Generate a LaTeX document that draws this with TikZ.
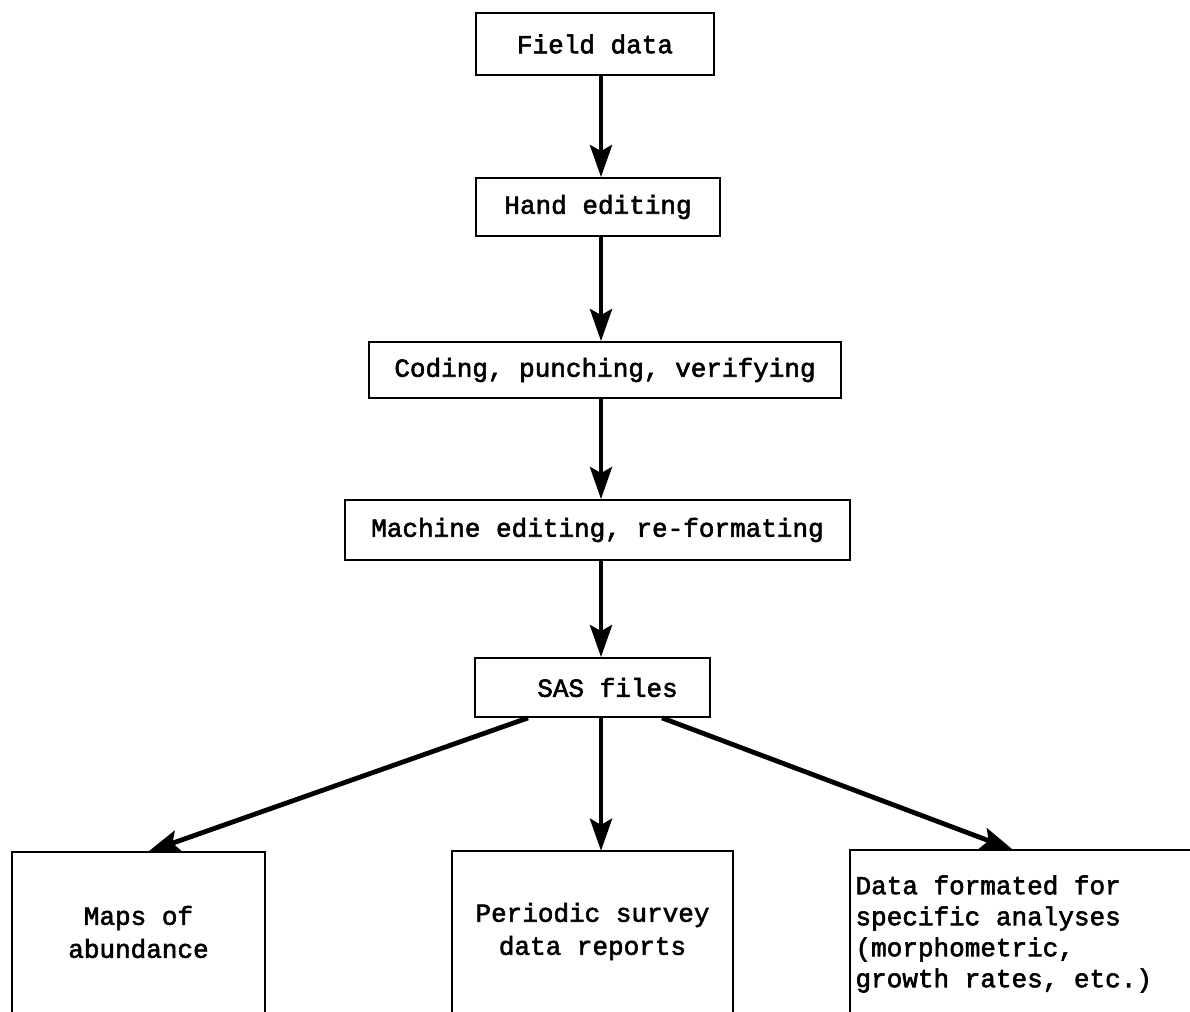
\documentclass[tikz,border=0pt]{standalone}
\usepackage{fontspec}
\setmainfont{Liberation Mono}[FakeBold=2.2]
\usetikzlibrary{arrows.meta}
\begin{document}
\begin{tikzpicture}[x=1pt,y=-1pt,
  font=\fontsize{26pt}{33pt}\selectfont,
  stepbox/.style={draw,line width=1.8pt,inner sep=0pt,align=center},
  openbox/.style={inner sep=0pt},
  arr/.style={line width=4.8pt,-{Stealth[length=32pt,width=22pt,inset=6pt]}},
  side/.style={line width=1.8pt}]
\useasboundingbox (0,0) rectangle (1190,1011);
\fill[white] (0,0) rectangle (1190,1011);
\node[stepbox,minimum width=238pt,minimum height=62pt] (field) at (595,44) {Field data};
\node[stepbox,minimum width=244pt,minimum height=58pt] (hand) at (598,207) {Hand editing};
\node[stepbox,minimum width=472pt,minimum height=56pt] (coding) at (605,370) {Coding, punching, verifying};
\node[stepbox,minimum width=505pt,minimum height=60pt] (machine) at (597.5,530) {Machine editing, re-formating};
\node[stepbox,minimum width=235pt,minimum height=59pt] (sas) at (592.5,687.5) {\hspace*{30pt}SAS files};
\node[openbox,minimum width=253pt,minimum height=160pt,align=center] (maps) at (138.5,932) {Maps of\\abundance};
\node[openbox,minimum width=281pt,minimum height=161pt,align=center] (periodic) at (592.5,931.5) {Periodic survey\\data reports};
\node[openbox,minimum width=360pt,minimum height=162pt] (formated) at (1030,931) {};
\node[anchor=west,align=left,font=\fontsize{26pt}{31pt}\selectfont] (formtext) at (852,934) {Data formated for\\specific analyses\\(morphometric,\\growth rates, etc.)};
\draw[side] (maps.south west) |- (maps.north east) -- (maps.south east);
\draw[side] (periodic.south west) |- (periodic.north east) -- (periodic.south east);
\draw[side] (formated.south west) |- (formated.north east);
\coordinate (ax) at (601,0);
\coordinate (lx1) at (528,0);
\coordinate (lx2) at (148,0);
\coordinate (rx1) at (662,0);
\coordinate (rx2) at (1013,0);
\draw[arr] (field.south -| ax) -- (hand.north -| ax);
\draw[arr] (hand.south -| ax) -- (coding.north -| ax);
\draw[arr] (coding.south -| ax) -- (machine.north -| ax);
\draw[arr] (machine.south -| ax) -- (sas.north -| ax);
\draw[arr] (sas.south -| ax) -- (periodic.north -| ax);
\draw[arr] (sas.south -| lx1) -- (maps.north -| lx2);
\draw[arr] (sas.south -| rx1) -- (formated.north -| rx2);
\end{tikzpicture}
\end{document}
